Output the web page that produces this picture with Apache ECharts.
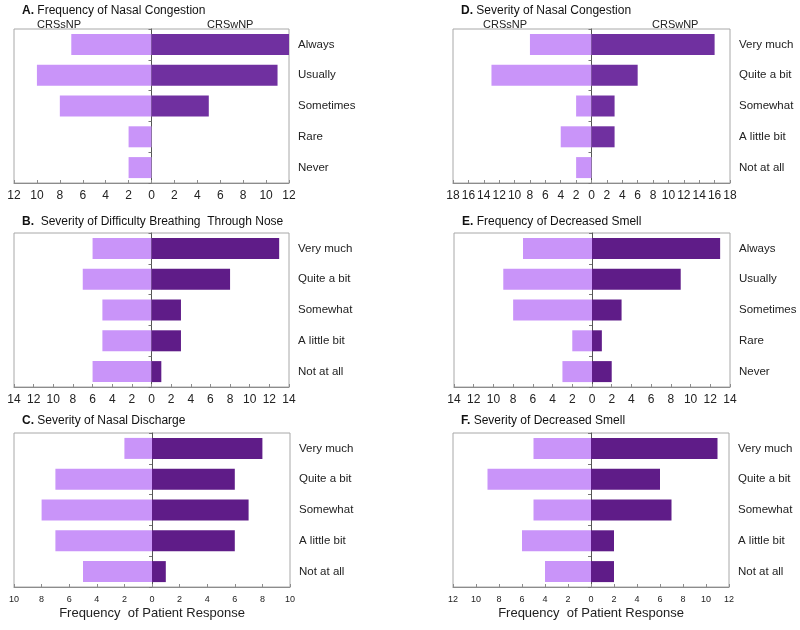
<!DOCTYPE html>
<html><head><meta charset="utf-8">
<script src="https://cdn.jsdelivr.net/npm/echarts@6/dist/echarts.min.js"></script>
<style>html,body{margin:0;padding:0;background:#fff}#c{width:800px;height:630px}</style>
</head><body><div id="c"></div>
<script>
const freqCats = ['Always','Usually','Sometimes','Rare','Never'];
const sevCats = ['Very much','Quite a bit','Somewhat','A little bit','Not at all'];

const aSinus = [7,10,8,2,2];  const aPolyp = [12,11,5,0,0];
const bSinus = [6,7,5,5,6];   const bPolyp = [13,8,3,3,1];
const cSinus = [2,7,8,7,5];   const cPolyp = [8,6,7,6,1];
const dSinus = [8,13,2,4,2];  const dPolyp = [16,6,3,3,0];
const eSinus = [7,9,8,2,3];   const ePolyp = [13,9,3,1,2];
const fSinus = [5,9,5,6,4];   const fPolyp = [11,6,7,2,2];

const axisMax = {A:12,B:14,C:10,D:18,E:14,F:12};
const titles = {A:' Frequency of Nasal Congestion',B:'  Severity of Difficulty Breathing  Through Nose',C:' Severity of Nasal Discharge',D:' Severity of Nasal Congestion',E:' Frequency of Decreased Smell',F:' Severity of Decreased Smell'};
const xName = 'Frequency  of Patient Response';

const FONT = '"Liberation Sans", Arial, sans-serif';
const LIGHT = '#c994f9';
const DARK1 = '#7030a0';
const DARK2 = '#5f1c88';

const panels = [
  {k:'A', cats:freqCats, s:aSinus, p:aPolyp, g:{left:14,top:29,width:275,height:154}, dark:DARK1, small:false, head:[37,207], tc:12},
  {k:'D', cats:sevCats,  s:dSinus, p:dPolyp, g:{left:453,top:29,width:277,height:154}, dark:DARK1, small:false, head:[483,652], tc:12},
  {k:'B', cats:sevCats,  s:bSinus, p:bPolyp, g:{left:14,top:233,width:275,height:154}, dark:DARK2, small:false, tc:223},
  {k:'E', cats:freqCats, s:eSinus, p:ePolyp, g:{left:454,top:233,width:276,height:154}, dark:DARK2, small:false, tc:223},
  {k:'C', cats:sevCats,  s:cSinus, p:cPolyp, g:{left:14,top:433,width:276,height:154}, dark:DARK2, small:true, tc:422},
  {k:'F', cats:sevCats,  s:fSinus, p:fPolyp, g:{left:453,top:433,width:276,height:154}, dark:DARK2, small:true, tc:422}
];

const grid=[], xAxis=[], yAxis=[], series=[], title=[], graphic=[];
panels.forEach((P,i)=>{
  const m = axisMax[P.k];
  grid.push(Object.assign({show:true,borderColor:'#a8a8a8',borderWidth:1,backgroundColor:'#fff'},P.g));
  xAxis.push({type:'value',gridIndex:i,min:-m,max:m,interval:2,
    axisLine:{show:true,lineStyle:{color:'#8c8c8c'}},
    axisTick:{show:true,inside:true,length:3,lineStyle:{color:'#8c8c8c'}},
    splitLine:{show:false},
    axisLabel:{formatter:v=>Math.abs(v),color:'#222',fontFamily:FONT,fontSize:P.small?9:12,margin:P.small?8:7},
    name:P.small?xName:'',nameLocation:'middle',nameGap:20,
    nameTextStyle:{fontFamily:FONT,fontSize:13,color:'#222'}
  });
  yAxis.push({type:'category',gridIndex:i,data:P.cats,inverse:true,
    axisLine:{show:true,onZero:true,lineStyle:{color:'#555'}},
    axisTick:{show:true,length:3,lineStyle:{color:'#777'}},
    axisLabel:{show:false}
  });
  yAxis.push({type:'category',gridIndex:i,data:P.cats,inverse:true,position:'right',
    axisLine:{show:false},axisTick:{show:false},
    axisLabel:{show:true,margin:9,color:'#222',fontFamily:FONT,fontSize:11.5}
  });
  series.push({type:'bar',name:'CRSsNP',xAxisIndex:i,yAxisIndex:2*i,data:P.s.map(v=>-v),
    barWidth:21,barGap:'-100%',itemStyle:{color:LIGHT},silent:true});
  series.push({type:'bar',name:'CRSwNP',xAxisIndex:i,yAxisIndex:2*i,data:P.p,
    barWidth:21,barGap:'-100%',itemStyle:{color:P.dark},silent:true});
  title.push({text:'{b|'+P.k+'.}{n|'+titles[P.k]+'}',left:P.g.left+3,top:P.tc-12,
    textStyle:{fontWeight:'normal',rich:{b:{fontWeight:'bold',fontSize:12,fontFamily:FONT,color:'#111'},n:{fontWeight:'normal',fontSize:12,fontFamily:FONT,color:'#111'}}}});
  if(P.head){
    graphic.push({type:'text',left:P.head[0],top:P.g.top-10,style:{text:'CRSsNP',font:'11px '+FONT,fill:'#222'}});
    graphic.push({type:'text',left:P.head[1],top:P.g.top-10,style:{text:'CRSwNP',font:'11px '+FONT,fill:'#222'}});
  }
});

const chart = echarts.init(document.getElementById('c'),null,{renderer:'canvas'});
chart.setOption({animation:false,backgroundColor:'#fff',title,grid,xAxis,yAxis,series,graphic});
</script></body></html>
